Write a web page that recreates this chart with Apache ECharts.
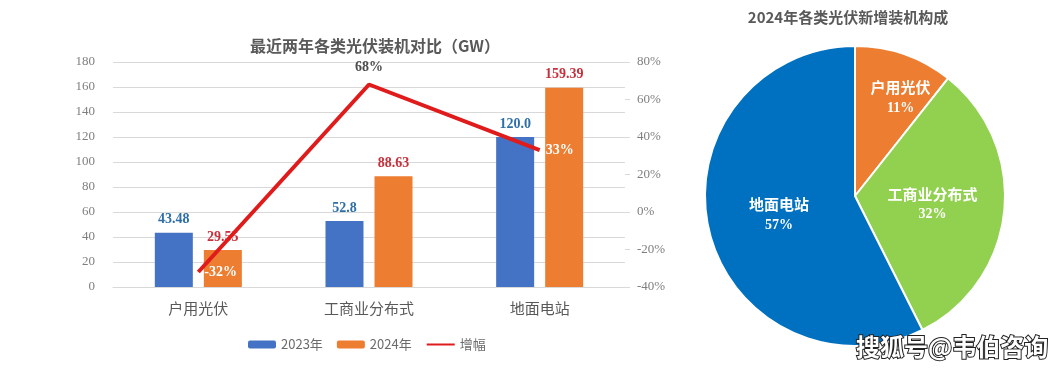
<!DOCTYPE html>
<html><head><meta charset="utf-8">
<script src="https://cdn.jsdelivr.net/npm/echarts@6/dist/echarts.min.js"></script>
<style>html,body{margin:0;padding:0;background:#fff}#c{width:1062px;height:375px}</style>
</head><body><div id="c"></div>
<script>
var categories = ['户用光伏', '工商业分布式', '地面电站'];
var values2023 = [43.48, 52.8, 120.0];
var values2024 = [29.55, 88.63, 159.39];
var growth = [-32, 68, 33];
var growthLabels = ['-32%', '68%', '33%'];
var pieNames = ['户用光伏', '工商业分布式', '地面电站'];
var pieValues = [29.55, 88.63, 159.39];
var piePct = ['11%', '32%', '57%'];

var serif = '"Liberation Serif","DejaVu Serif",serif';
var cjk = '"Noto Sans CJK SC","Noto Sans",sans-serif';
var chart = echarts.init(document.getElementById('c'));
chart.setOption({
  animation: false,
  title: [
    {text: '最近两年各类光伏装机对比（GW）', left: 370, top: 33, textAlign: 'center',
     textStyle: {fontFamily: cjk, fontSize: 16, fontWeight: 'bold', color: '#595959'}},
    {text: '2024年各类光伏新增装机构成', left: 843, top: 5, textAlign: 'center',
     textStyle: {fontFamily: cjk, fontSize: 15, fontWeight: 'bold', color: '#595959'}}
  ],
  legend: {
    data: ['2023年', '2024年', {name: '增幅', itemStyle: {opacity: 0}}], left: 243, top: 333, itemWidth: 28, itemHeight: 8, itemGap: 14,
    textStyle: {fontFamily: cjk, fontSize: 13, color: '#6b6b6b'}
  },
  grid: {left: 113, right: 437, top: 62, bottom: 88},
  xAxis: {type: 'category', data: categories,
    axisLine: {show: true, lineStyle: {color: '#d9d9d9'}}, axisTick: {show: false},
    axisLabel: {fontFamily: cjk, fontSize: 15, color: '#595959', margin: 14}},
  yAxis: [
    {type: 'value', min: 0, max: 180, interval: 20,
     axisLine: {show: false}, axisTick: {show: false},
     axisLabel: {fontFamily: serif, fontSize: 13, color: '#7f7f7f', margin: 18},
     splitLine: {lineStyle: {color: '#d9d9d9', width: 1}}},
    {type: 'value', min: -40, max: 80, interval: 20,
     axisLine: {show: false}, axisTick: {show: true, length: 5, lineStyle: {color: '#d9d9d9'}},
     axisLabel: {fontFamily: serif, fontSize: 13, color: '#7f7f7f', margin: 12, formatter: '{value}%'},
     splitLine: {show: false}}
  ],
  series: [
    {name: '2023年', type: 'bar', data: values2023, barWidth: 38, barGap: '29%',
     itemStyle: {color: '#4472c4'},
     label: {show: true, position: 'top', distance: 6, fontFamily: serif, fontWeight: 'bold', fontSize: 14, color: '#2e6fa7',
       formatter: function (p) { return p.dataIndex === 2 ? p.value.toFixed(1) : String(p.value); }}},
    {name: '2024年', type: 'bar', data: values2024, barWidth: 38,
     itemStyle: {color: '#ed7d31'},
     label: {show: true, position: 'top', distance: 6, fontFamily: serif, fontWeight: 'bold', fontSize: 14, color: '#c8303c'}},
    {name: '增幅', type: 'line', yAxisIndex: 1, symbol: 'circle', symbolSize: 0, z: 5,
     lineStyle: {color: '#e01b1b', width: 4}, itemStyle: {color: '#e01b1b'},
     label: {show: true, fontFamily: serif, fontWeight: 'bold', fontSize: 14,
       formatter: function (p) { return growthLabels[p.dataIndex]; }},
     data: growth.map(function (v, i) {
       return {value: v, label: i === 1 ? {position: 'top', distance: 10, color: '#4d4d4d'} : {position: 'right', distance: 6, color: '#ffffff'}};
     })},
    {name: 'pie', type: 'pie', center: [855, 196], radius: 150, startAngle: 90, clockwise: true,
     itemStyle: {borderColor: '#ffffff', borderWidth: 2},
     label: {show: true, position: 'inside', color: '#ffffff', lineHeight: 22,
       formatter: function (p) { return '{n|' + p.name + '}\n{p|' + piePct[p.dataIndex] + '}'; },
       rich: {n: {fontFamily: cjk, fontWeight: 'bold', fontSize: 15, color: '#fff', lineHeight: 22},
              p: {fontFamily: serif, fontWeight: 'bold', fontSize: 14, color: '#fff', lineHeight: 20}}},
     labelLayout: function (p) {
       if (p.dataIndex === 0) return {dx: 20, dy: -25};
       return {};
     },
     data: pieNames.map(function (n, i) {
       return {name: n, value: pieValues[i], itemStyle: {color: ['#ed7d31', '#92d050', '#0070c0'][i]}};
     })}
  ],
  graphic: [
    {type: 'text', left: 855, top: 334, z: 100,
     style: {text: '搜狐号@韦伯咨询', font: 'bold 24px "Noto Sans CJK SC"', fill: '#ffffff', stroke: '#222222', lineWidth: 2}}
  ]
});
</script></body></html>
